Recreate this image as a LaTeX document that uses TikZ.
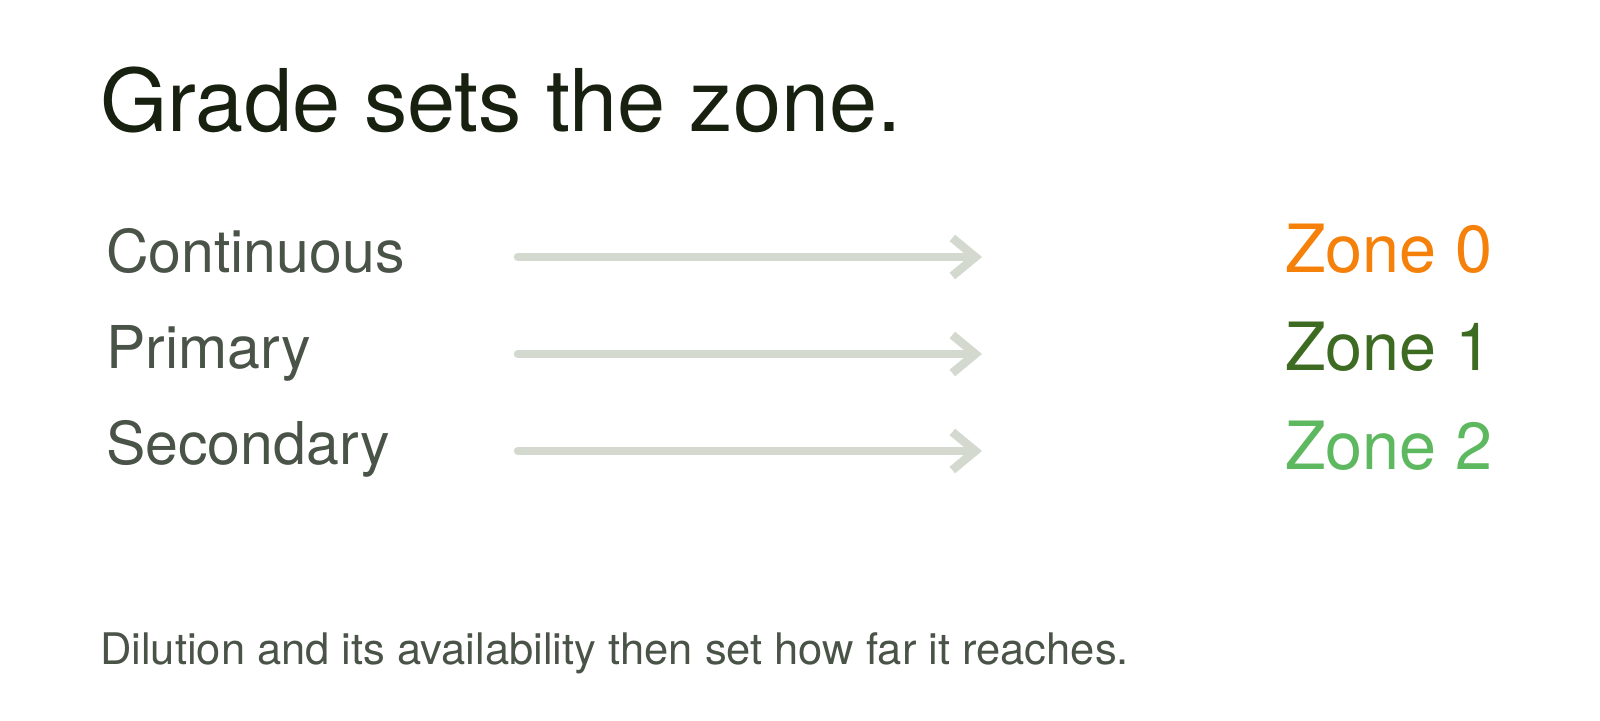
\documentclass[tikz,border=0pt]{standalone}
\usepackage{fontspec}
\setmainfont{TeX Gyre Heros}
\usetikzlibrary{arrows.meta}
\definecolor{titlecol}{HTML}{18200F}
\definecolor{labelcol}{HTML}{4A5347}
\definecolor{arrowcol}{HTML}{D3D9CE}
\definecolor{zonezero}{HTML}{F5800A}
\definecolor{zoneone}{HTML}{3E6B22}
\definecolor{zonetwo}{HTML}{5DB85F}
\tikzset{
  x=1pt, y=1pt,
  txt/.style={inner sep=0pt, anchor=base west},
  titletxt/.style={txt, text=titlecol, font=\fontsize{86.5}{92}\selectfont},
  rowlabel/.style={txt, text=labelcol, font=\fontsize{59}{64}\selectfont},
  zonelabel/.style={txt, font=\fontsize{66.5}{70}\selectfont},
  foot/.style={txt, text=labelcol, font=\fontsize{43.5}{48}\selectfont},
  maparrow/.style={draw=arrowcol, line width=8.5pt, line cap=round,
    -{Straight Barb[length=23pt, width=38pt, line cap=butt]}},
}
\begin{document}
\begin{tikzpicture}
\useasboundingbox (0,0) rectangle (1600,720);
\fill[white] (0,0) rectangle (1600,720);
\node[titletxt] (title) at (100,588) {Grade sets the zone.};
\node[rowlabel] (r0) at (106,447) {Continuous};
\node[rowlabel] (r1) at (106,351) {Primary};
\node[rowlabel] (r2) at (106,255) {Secondary};
\node[zonelabel, text=zonezero] (z0) at (1285,447) {Zone 0};
\node[zonelabel, text=zoneone] (z1) at (1285,349) {Zone 1};
\node[zonelabel, text=zonetwo] (z2) at (1285,250) {Zone 2};
\coordinate (s0) at (518,463);
\coordinate (e0) at (982,463);
\coordinate (s1) at (518,366);
\coordinate (e1) at (982,366);
\coordinate (s2) at (518,269);
\coordinate (e2) at (982,269);
\draw[maparrow] (s0) -- (e0);
\draw[maparrow] (s1) -- (e1);
\draw[maparrow] (s2) -- (e2);
\node[foot] (note) at (100,56) {Dilution and its availability then set how far it reaches.};
\end{tikzpicture}
\end{document}
